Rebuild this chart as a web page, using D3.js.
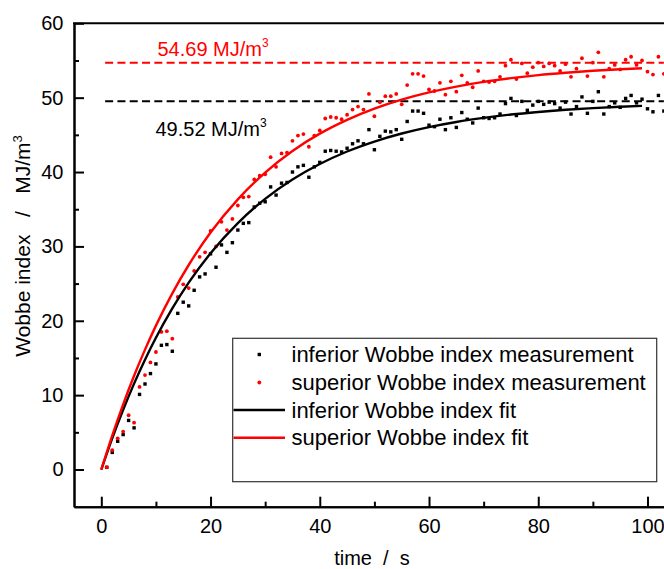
<!DOCTYPE html>
<html>
<head>
<meta charset="utf-8">
<script src="https://cdn.jsdelivr.net/npm/d3@7"></script>
<style>
  html, body { margin: 0; padding: 0; background: #fff; }
  svg { display: block; font-family: "Liberation Sans", Arial, sans-serif; }
  text { white-space: pre; }
</style>
</head>
<body>
<svg id="chart" width="664" height="569"></svg>
<script>
// ---- data ----
const timeS = d3.range(1, 104); // 1..103 s
const inferiorMeas = [0.3,2.3,3.8,4.7,6.6,5.6,10.1,11.5,12.9,14.2,16.7,16.8,15.9,21.0,22.5,22.0,24.1,25.9,26.3,29.0,
  27.2,30.2,29.2,30.5,32.2,33.1,33.2,35.3,35.8,36.0,38.0,36.9,38.5,38.6,40.0,40.7,40.9,39.3,40.7,41.3,
  42.8,42.9,42.8,42.7,43.2,43.8,44.2,43.8,45.7,43.0,44.8,45.5,45.4,45.7,44.4,46.8,48.2,48.2,47.9,46.3,
  46.1,47.1,45.7,47.3,46.0,48.0,47.1,46.6,48.6,47.3,47.2,47.3,47.8,49.2,49.9,47.6,49.5,48.3,49.0,49.5,
  49.1,49.4,49.2,48.6,49.4,47.8,48.8,50.1,47.9,49.5,50.8,47.8,48.8,49.3,48.7,49.9,50.3,49.3,49.8,48.5,
  48.1,50.3,48.2];
const superiorMeas = [0.3,2.6,4.2,5.1,7.3,6.3,11.1,12.7,14.4,15.8,18.5,18.6,17.6,23.2,24.9,24.4,26.7,28.6,29.2,32.1,
  30.0,33.3,32.2,33.7,35.5,36.6,36.7,39.0,39.5,39.7,42.0,40.7,42.5,42.6,44.2,44.9,45.1,43.4,44.9,45.6,
  47.2,47.4,47.3,47.1,47.7,48.4,48.8,48.4,50.5,47.5,49.4,50.2,50.2,50.5,49.1,51.7,53.2,53.2,52.9,51.1,
  50.9,52.0,50.4,52.2,50.8,53.0,52.0,51.4,53.6,52.2,52.1,52.2,52.8,54.3,55.1,52.5,54.6,53.3,54.1,54.7,
  54.2,54.6,54.3,53.6,54.5,52.8,53.9,55.3,52.9,54.7,56.1,52.8,53.9,54.4,53.8,55.1,55.5,54.4,55.0,53.5,
  53.1,55.5,53.2];
const fitTime = [0,2,4,6,8,10,13,16,20,25,30,35,40,45,50,55,60,65,70,75,80,85,90,95,99];
const inferiorFit = [0,4.19,8.03,11.55,14.76,17.71,21.66,25.13,29.08,33.14,36.39,38.99,41.08,42.76,44.10,45.18,46.04,46.73,47.28,47.73,48.08,48.37,48.60,48.78,48.90];
const superiorFit = [0,4.57,8.77,12.61,16.12,19.35,23.69,27.50,31.86,36.33,39.93,42.83,45.16,47.02,48.53,49.74,50.71,51.49,52.12,52.62,53.03,53.35,53.62,53.83,53.96];
const inferiorLimit = 49.52;
const superiorLimit = 54.69;
const limitSpan = [0.7, 103];
const xTicks = [0,20,40,60,80,100];
const xMinor = [10,30,50,70,90];
const yTicks = [0,10,20,30,40,50,60];
const yMinor = [5,15,25,35,45,55];
const legendLabels = ["inferior Wobbe index measurement","superior Wobbe index measurement","inferior Wobbe index fit","superior Wobbe index fit"];

// ---- layout ----
const svg = d3.select("#chart");
const x = d3.scaleLinear().domain([-5, 105]).range([74, 674.8]);
const y = d3.scaleLinear().domain([-5, 60]).range([506.7, 23.3]);
const RED = "#ff0000", BLACK = "#000000";

// axes
const gx = svg.append("g").attr("transform", `translate(0,${y(-5)})`)
  .call(d3.axisBottom(x).tickValues(xTicks).tickSizeInner(-10).tickSizeOuter(0).tickPadding(12.4));
const gxm = svg.append("g").attr("transform", `translate(0,${y(-5)})`)
  .call(d3.axisBottom(x).tickValues(xMinor).tickSizeInner(-5).tickSizeOuter(0).tickFormat(""));
const gy = svg.append("g").attr("transform", `translate(${x(-5)},0)`)
  .call(d3.axisLeft(y).tickValues(yTicks).tickSizeInner(-10).tickSizeOuter(0).tickPadding(10.5));
const gym = svg.append("g").attr("transform", `translate(${x(-5)},0)`)
  .call(d3.axisLeft(y).tickValues(yMinor).tickSizeInner(-5).tickSizeOuter(0).tickFormat(""));
[gx, gxm, gy, gym].forEach(g => {
  g.selectAll("path.domain").attr("stroke", BLACK).attr("stroke-width", 2);
  g.selectAll(".tick line").attr("stroke", BLACK).attr("stroke-width", 2);
  g.selectAll(".tick text").attr("fill", BLACK).style("font-size", "20px")
    .style("font-family", '"Liberation Sans", Arial, sans-serif');
});
// top frame line
svg.append("line").attr("x1", x(-5) - 1).attr("x2", x(105)).attr("y1", y(60)).attr("y2", y(60))
  .attr("stroke", BLACK).attr("stroke-width", 2);

// axis titles
svg.append("text").attr("x", 372).attr("y", 564.5).attr("text-anchor", "middle")
  .style("font-size", "20px").text("time  /  s");
const yt = svg.append("text").attr("transform", "translate(30,246) rotate(-90)").attr("text-anchor", "middle")
  .style("font-size", "21px");
yt.append("tspan").text("Wobbe index   /   MJ/m");
yt.append("tspan").attr("dy", -8.5).style("font-size", "13px").text("3");

// limit lines
svg.append("line").attr("x1", x(limitSpan[0])).attr("x2", x(limitSpan[1]))
  .attr("y1", y(superiorLimit)).attr("y2", y(superiorLimit))
  .attr("stroke", RED).attr("stroke-width", 2).attr("stroke-dasharray", "8,4.3");
svg.append("line").attr("x1", x(limitSpan[0])).attr("x2", x(limitSpan[1]))
  .attr("y1", y(inferiorLimit)).attr("y2", y(inferiorLimit))
  .attr("stroke", BLACK).attr("stroke-width", 2).attr("stroke-dasharray", "8,4.3");

// limit labels
function limitLabel(val, px, py, color) {
  const t = svg.append("text").attr("x", px).attr("y", py).attr("fill", color).style("font-size", "20px");
  t.append("tspan").text(d3.format(".2f")(val) + " MJ/m");
  t.append("tspan").attr("dy", -9).style("font-size", "12px").text("3");
}
limitLabel(superiorLimit, 157.5, y(superiorLimit) - 6.5, RED);
limitLabel(inferiorLimit, 155.5, y(inferiorLimit) + 34.5, BLACK);

// measurements
const infPts = timeS.map((t, i) => [t, inferiorMeas[i]]);
const supPts = timeS.map((t, i) => [t, superiorMeas[i]]);
svg.append("g").selectAll("rect").data(infPts).join("rect")
  .attr("x", d => x(d[0]) - 1.7).attr("y", d => y(d[1]) - 1.7)
  .attr("width", 3.4).attr("height", 3.4).attr("fill", BLACK);
svg.append("g").selectAll("circle").data(supPts).join("circle")
  .attr("cx", d => x(d[0])).attr("cy", d => y(d[1])).attr("r", 1.9).attr("fill", RED);

// fits
const line = d3.line().x(d => x(d[0])).y(d => y(d[1])).curve(d3.curveMonotoneX);
svg.append("path").datum(fitTime.map((t, i) => [t, inferiorFit[i]]))
  .attr("d", line).attr("fill", "none").attr("stroke", BLACK).attr("stroke-width", 2.4);
svg.append("path").datum(fitTime.map((t, i) => [t, superiorFit[i]]))
  .attr("d", line).attr("fill", "none").attr("stroke", RED).attr("stroke-width", 2.4);

// legend
const lg = svg.append("g");
lg.append("rect").attr("x", 232.7).attr("y", 338.3).attr("width", 424).attr("height", 143.4)
  .attr("fill", "#fff").attr("stroke", "#333").attr("stroke-width", 1.2);
const rowY = [354.5, 382.5, 410, 437.8];
lg.append("rect").attr("x", 259.3 - 1.7).attr("y", rowY[0] - 1.7).attr("width", 3.4).attr("height", 3.4).attr("fill", BLACK);
lg.append("circle").attr("cx", 259.3).attr("cy", rowY[1]).attr("r", 1.9).attr("fill", RED);
lg.append("line").attr("x1", 233.5).attr("x2", 285).attr("y1", rowY[2]).attr("y2", rowY[2]).attr("stroke", BLACK).attr("stroke-width", 2.4);
lg.append("line").attr("x1", 233.5).attr("x2", 285).attr("y1", rowY[3]).attr("y2", rowY[3]).attr("stroke", RED).attr("stroke-width", 2.4);
legendLabels.forEach((s, i) => {
  lg.append("text").attr("x", 291.5).attr("y", rowY[i] + 7.6).style("font-size", "22px").attr("fill", BLACK).text(s);
});
</script>
</body>
</html>
